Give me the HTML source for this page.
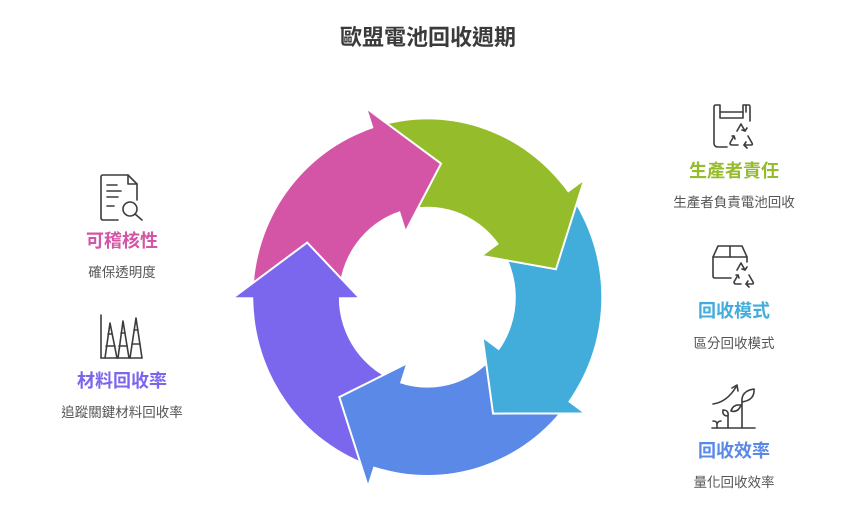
<!DOCTYPE html>
<html>
<head>
<meta charset="utf-8">
<style>
  html, body { margin: 0; padding: 0; background: #ffffff; }
  body { width: 860px; height: 525px; overflow: hidden; }
  svg { display: block; }
  .t { font-family: "Liberation Sans", "Noto Sans CJK TC", "Noto Sans CJK SC", sans-serif; }
</style>
</head>
<body>
<svg width="860" height="525" viewBox="0 0 860 525" xmlns="http://www.w3.org/2000/svg">
  <!-- Title -->
  <text class="t" x="428" y="45" text-anchor="middle" font-size="22" font-weight="bold" fill="#3a3a3a">歐盟電池回收週期</text>

  <!-- Cycle -->
  <g transform="translate(427.3,297.2) scale(1,1.022)">
    <!-- bodies -->
    <path fill="#D455A6" d="M -174 0 A 174 174 0 0 1 -53.77 -165.48 L -27.35 -84.17 A 88.5 88.5 0 0 0 -88.5 0 Z"/>
    <path fill="#95BC2B" d="M -53.77 -165.48 A 174 174 0 0 1 140.77 -102.28 L 71.60 -52.02 A 88.5 88.5 0 0 0 -27.35 -84.17 Z"/>
    <path fill="#42ACDB" d="M 140.77 -102.28 A 174 174 0 0 1 140.77 102.28 L 71.60 52.02 A 88.5 88.5 0 0 0 71.60 -52.02 Z"/>
    <path fill="#5A89E8" d="M 140.77 102.28 A 174 174 0 0 1 -53.77 165.48 L -27.35 84.17 A 88.5 88.5 0 0 0 71.60 52.02 Z"/>
    <path fill="#7B67EE" d="M -53.77 165.48 A 174 174 0 0 1 -174 0 L -88.5 0 A 88.5 88.5 0 0 0 -27.35 84.17 Z"/>

    <!-- heads -->
    <polygon fill="#D455A6" points="-62.36,-162.44 -53.77,-165.48 -59.80,-184.03 13.75,-130.78 -21.17,-65.15 -27.35,-84.17 -31.72,-82.62"/>
    <polyline fill="none" stroke="#ffffff" stroke-width="2" vector-effect="non-scaling-stroke" stroke-linejoin="miter" points="-59.80,-184.03 13.75,-130.78 -21.17,-65.15"/>

    <polygon fill="#95BC2B" points="135.22,-109.50 140.77,-102.28 156.55,-113.74 128.63,-27.34 55.42,-40.26 71.60,-52.02 68.78,-55.69"/>
    <polyline fill="none" stroke="#ffffff" stroke-width="2" vector-effect="non-scaling-stroke" points="156.55,-113.74 128.63,-27.34 55.42,-40.26"/>

    <polygon fill="#42ACDB" points="145.93,94.77 140.77,102.28 156.55,113.74 65.75,113.88 55.42,40.26 71.60,52.02 74.22,48.20"/>
    <polyline fill="none" stroke="#ffffff" stroke-width="2" vector-effect="non-scaling-stroke" points="156.55,113.74 65.75,113.88 55.42,40.26"/>

    <polygon fill="#5A89E8" points="-45.03,168.07 -53.77,165.48 -59.80,184.03 -87.99,97.72 -21.17,65.15 -27.35,84.17 -22.91,85.48"/>
    <polyline fill="none" stroke="#ffffff" stroke-width="2" vector-effect="non-scaling-stroke" points="-59.80,184.03 -87.99,97.72 -21.17,65.15"/>

    <polygon fill="#7B67EE" points="-173.76,9.11 -174,0 -193.5,0 -120.13,-53.49 -68.5,0 -88.5,0 -88.38,4.63"/>
    <polyline fill="none" stroke="#ffffff" stroke-width="2" vector-effect="non-scaling-stroke" points="-193.5,0 -120.13,-53.49 -68.5,0"/>
  </g>

  <!-- Icons -->
  <g fill="none" stroke="#3c3c3c" stroke-width="1.6" stroke-linecap="round" stroke-linejoin="round">
    <!-- Document + magnifier (left top) -->
    <path d="M118,220 L103,220 Q101,220 101,218 L101,177 Q101,175 103,175 L128,175 L137,184 L137,200"/>
    <path d="M128,175 L128,184 L137,184"/>
    <line x1="107" y1="185" x2="117" y2="185"/>
    <line x1="107" y1="191" x2="121" y2="191"/>
    <line x1="107" y1="197" x2="118" y2="197"/>
    <line x1="107" y1="206" x2="114" y2="206"/>
    <circle cx="130" cy="209" r="7"/>
    <line x1="135" y1="214" x2="142" y2="220"/>

    <!-- Bars / peaks icon (left bottom) -->
    <line x1="101" y1="315" x2="101" y2="358"/>
    <line x1="101" y1="358" x2="142" y2="358"/>
    <path d="M105,358 L110,323 L117,358"/>
    <path d="M118,358 L123,321 L129,358"/>
    <path d="M130,358 L136,318 L142,358"/>
    <line x1="108" y1="334" x2="112" y2="334"/>
    <line x1="106" y1="346" x2="115" y2="346"/>
    <line x1="121" y1="333" x2="125" y2="333"/>
    <line x1="119" y1="346" x2="127" y2="346"/>
    <line x1="134" y1="330" x2="138" y2="330"/>
    <line x1="132" y1="344" x2="140" y2="344"/>

    <!-- Bag + recycle (right top) -->
    <path d="M727,147 L718,147 Q714,147 714,143 L714,107 Q714,105 716,105 L720,105 L720,118 L743,118 L743,105 L749,105 Q750,105 750,107 L750,121"/>
    <path d="M720,112 L743,112"/>
    <path d="M746,105 L746,112"/>
    <path d="M737,131 L741,124 L745,131"/>
    <path d="M747,128 L745,131 L742,130"/>
    <path d="M734,136 L730,143 Q730,145 732,145 L738,145"/>
    <path d="M732,136 L734,136 L735,139"/>
    <path d="M744,145 L751,145 Q753,145 752,143 L748,136"/>
    <path d="M746,142 L744,145 L747,148"/>

    <!-- Box + recycle (right middle) -->
    <path d="M731,278 L715,278 Q713,278 713,276 L713,257 L718,246 L742,246 L747,257 L747,262"/>
    <line x1="713" y1="257" x2="747" y2="257"/>
    <line x1="730" y1="246" x2="730" y2="257"/>
    <path d="M737,270 L741,263 L745,270"/>
    <path d="M747,267 L745,270 L742,269"/>
    <path d="M738,275 L734,282 Q734,284 736,284 L741,284"/>
    <path d="M736,275 L738,275 L739,278"/>
    <path d="M746,284 L752,284 Q754,284 753,282 L749,275"/>
    <path d="M748,281 L746,284 L749,287"/>

    <!-- Plant growth (right bottom) -->
    <line x1="712" y1="428" x2="755" y2="428"/>
    <line x1="742" y1="428" x2="742" y2="402"/>
    <path d="M742,402 Q741,391 754,389 Q755,400 742,402 Z"/>
    <line x1="728" y1="428" x2="728" y2="416"/>
    <path d="M728,416 Q722,416 723,410 Q729,410 728,416 Z"/>
    <path d="M731,411 Q733,404 741,405 Q738,413 731,411 Z"/>
    <path d="M717,428 L717,424 Q717,421 713,421 M717,424 Q718,421 721,421"/>
    <path d="M713,404 Q727,402 736,387"/>
    <path d="M732,388 L737,385 L738,391"/>
  </g>

  <!-- Left labels -->
  <text class="t" x="122" y="247" text-anchor="middle" font-size="18" font-weight="bold" fill="#D455A6">可稽核性</text>
  <text class="t" x="122" y="277" text-anchor="middle" font-size="13.5" fill="#555555">確保透明度</text>
  <text class="t" x="122" y="387" text-anchor="middle" font-size="18" font-weight="bold" fill="#7B67EE">材料回收率</text>
  <text class="t" x="122" y="417" text-anchor="middle" font-size="13.5" fill="#555555">追蹤關鍵材料回收率</text>

  <!-- Right labels -->
  <text class="t" x="734" y="177" text-anchor="middle" font-size="18" font-weight="bold" fill="#95BC2B">生產者責任</text>
  <text class="t" x="734" y="207" text-anchor="middle" font-size="13.5" fill="#555555">生產者負責電池回收</text>
  <text class="t" x="734" y="317" text-anchor="middle" font-size="18" font-weight="bold" fill="#42ACDB">回收模式</text>
  <text class="t" x="734" y="348" text-anchor="middle" font-size="13.5" fill="#555555">區分回收模式</text>
  <text class="t" x="734" y="457" text-anchor="middle" font-size="18" font-weight="bold" fill="#5A89E8">回收效率</text>
  <text class="t" x="734" y="487" text-anchor="middle" font-size="13.5" fill="#555555">量化回收效率</text>
</svg>
</body>
</html>
